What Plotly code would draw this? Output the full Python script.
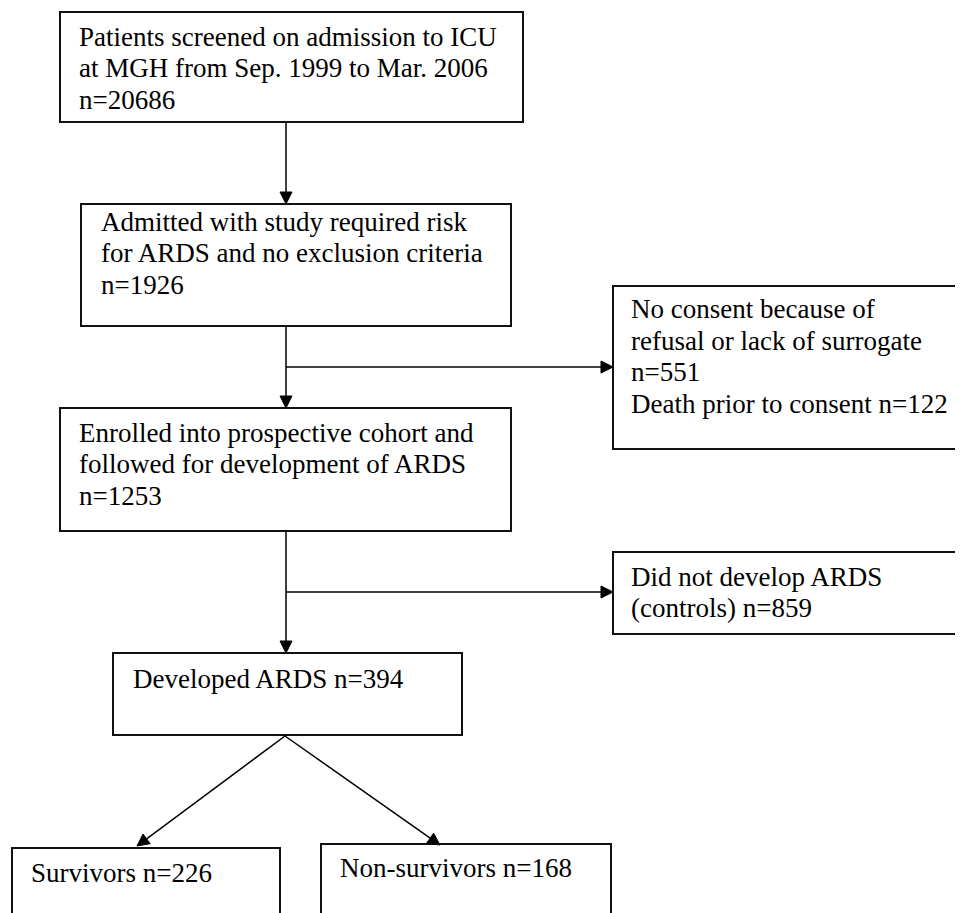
import math
import plotly.graph_objects as go

# ---- data (counts in the flow) ----
screened = 20686
eligible = 1926
no_consent = 551
death_prior = 122
enrolled = 1253
controls = 859
developed = 394
survivors = 226
non_survivors = 168

box_texts = {
    "screen": ["Patients screened on admission to ICU",
               "at MGH from Sep. 1999 to Mar. 2006",
               f"n={screened}"],
    "eligible": ["Admitted with study required risk",
                 "for ARDS and no exclusion criteria",
                 f"n={eligible}"],
    "excluded": ["No consent because of",
                 "refusal or lack of surrogate",
                 f"n={no_consent}",
                 f"Death prior to consent n={death_prior}"],
    "enrolled": ["Enrolled into prospective cohort and",
                 "followed for development of ARDS",
                 f"n={enrolled}"],
    "controls": ["Did not develop ARDS",
                 f"(controls) n={controls}"],
    "ards": [f"Developed ARDS n={developed}"],
    "surv": [f"Survivors n={survivors}"],
    "nonsurv": [f"Non-survivors n={non_survivors}"],
}

# ---- layout (pixel geometry, page coordinates) ----
W, H = 963, 913
PAGE_MARGIN = 8  # default body margin of the html page
boxes = {  # x0, y0, x1, y1
    "screen": (60, 12, 523, 122),
    "eligible": (81, 204, 511, 326),
    "excluded": (613, 286, 980, 449),
    "enrolled": (60, 408, 511, 531),
    "controls": (613, 552, 980, 634),
    "ards": (113, 653, 462, 735),
    "surv": (12, 848, 280, 960),
    "nonsurv": (321, 844, 611, 960),
}
text_pos = {  # x start, first baseline, line pitch
    "screen": (78, 46, 31.3),
    "eligible": (100, 231, 31.3),
    "excluded": (630, 318, 31.6),
    "enrolled": (78, 442, 31.3),
    "controls": (630, 586, 31.3),
    "ards": (132, 688, 31.3),
    "surv": (30, 882, 31.3),
    "nonsurv": (339, 877, 31.3),
}
FONT = dict(family="Liberation Serif, Times New Roman, serif", size=27, color="black")

arrows = [  # (x0, y0, x1, y1)
    (286, 122, 286, 204),
    (286, 326, 286, 408),
    (286, 367, 613, 367),
    (286, 531, 286, 653),
    (286, 592, 613, 592),
    (285, 736, 137, 846),
    (285, 736, 440, 845),
]

fig = go.Figure()
shapes = []
annotations = []

for k, (x0, y0, x1, y1) in boxes.items():
    shapes.append(dict(type="rect", x0=x0, y0=y0, x1=x1, y1=y1, xref="x", yref="y",
                       line=dict(color="#111111", width=2), fillcolor="rgba(0,0,0,0)"))

for k, lines in box_texts.items():
    tx, ty, pitch = text_pos[k]
    for i, ln in enumerate(lines):
        base = ty + i * pitch
        annotations.append(dict(x=tx, y=base - 9, xref="x", yref="y", text=ln,
                                showarrow=False, xanchor="left", yanchor="middle",
                                font=FONT, borderpad=0))

AL, AW = 12, 6  # arrowhead length, half width
for (x0, y0, x1, y1) in arrows:
    dx, dy = x1 - x0, y1 - y0
    L = math.hypot(dx, dy)
    ux, uy = dx / L, dy / L
    bx, by = x1 - ux * AL, y1 - uy * AL
    shapes.append(dict(type="line", x0=x0, y0=y0, x1=bx, y1=by, xref="x", yref="y",
                       line=dict(color="black", width=1.5)))
    px, py = -uy, ux
    p1 = (bx + px * AW, by + py * AW)
    p2 = (bx - px * AW, by - py * AW)
    shapes.append(dict(type="path", xref="x", yref="y",
                       path=f"M {x1},{y1} L {p1[0]},{p1[1]} L {p2[0]},{p2[1]} Z",
                       fillcolor="black", line=dict(color="black", width=1)))

fig.update_layout(
    width=W - PAGE_MARGIN, height=H - PAGE_MARGIN, margin=dict(l=0, r=0, t=0, b=0),
    paper_bgcolor="white", plot_bgcolor="white",
    xaxis=dict(range=[PAGE_MARGIN, W], visible=False, fixedrange=True),
    yaxis=dict(range=[H, PAGE_MARGIN], visible=False, fixedrange=True),
    shapes=shapes, annotations=annotations, showlegend=False,
)
fig.write_html("out.html")
